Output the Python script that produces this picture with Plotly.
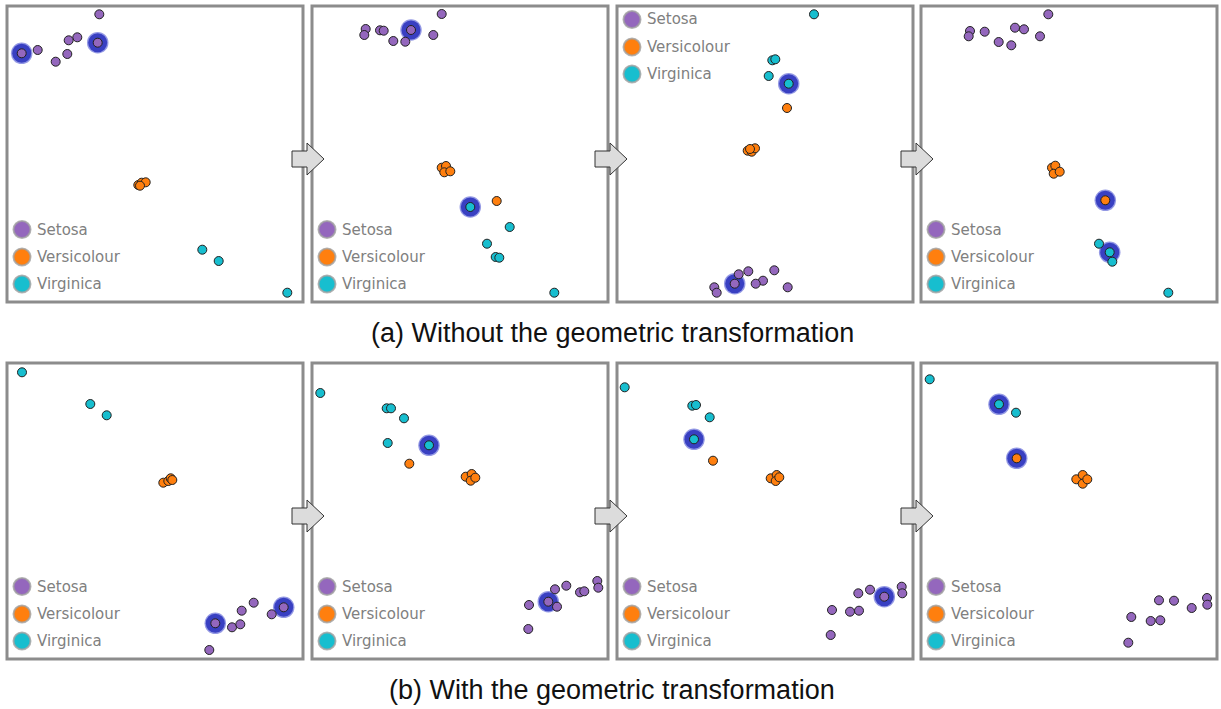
import plotly.graph_objects as go

W, H = 1221, 709
PANEL = 296  # panel side in local units

SPECIES = ["Setosa", "Versicolour", "Virginica"]
COLORS = {"Setosa": "#9467bd", "Versicolour": "#ff7f0e", "Virginica": "#17becf"}

# ---- data: projected iris samples, panel-local coords (x right, y down, 0..296) ----
# Row (a): without the geometric transformation
a1_setosa = [(92.3, 8.3), (70.3, 31.3), (61.7, 34.3), (90.7, 36.7), (30.7, 44.0),
             (14.7, 47.3), (60.3, 48.0), (48.7, 55.7)]
a1_versicolour = [(131.3, 179.0), (134.7, 176.7), (138.7, 176.3), (133.0, 179.7)]
a1_virginica = [(195.3, 243.7), (211.7, 255.0), (280.3, 286.7)]
a1_highlight = [("Setosa", 3), ("Setosa", 5)]

a2_setosa = [(129.7, 8.0), (53.7, 23.0), (52.3, 29.0), (68.0, 24.3), (71.7, 24.7),
             (99.0, 24.0), (121.3, 29.0), (81.3, 35.0), (93.3, 35.7)]
a2_versicolour = [(129.7, 161.7), (134.0, 160.0), (132.3, 166.3), (138.3, 165.3), (184.7, 195.0)]
a2_virginica = [(158.3, 201.0), (197.7, 221.0), (175.0, 237.7), (183.7, 251.0),
                (187.3, 251.7), (242.3, 286.7)]
a2_highlight = [("Setosa", 5), ("Virginica", 0)]

a3_setosa = [(121.7, 268.3), (131.3, 265.3), (157.3, 264.3), (146.0, 274.7), (138.7, 277.7),
             (117.7, 277.7), (97.3, 281.3), (99.7, 286.7), (170.7, 281.3)]
a3_versicolour = [(170.0, 102.0), (130.7, 144.7), (134.7, 145.7), (138.0, 142.3), (133.0, 143.0)]
a3_virginica = [(197.0, 8.3), (155.3, 54.3), (158.3, 53.3), (151.7, 70.0), (171.7, 77.7)]
a3_highlight = [("Setosa", 5), ("Virginica", 4)]

a4_setosa = [(127.3, 8.3), (49.0, 25.0), (47.7, 30.3), (63.7, 25.7), (94.0, 21.7),
             (103.0, 23.3), (119.0, 30.3), (77.7, 36.0), (90.3, 39.3)]
a4_versicolour = [(131.0, 161.7), (134.3, 159.7), (132.7, 167.7), (138.7, 165.7), (184.3, 194.3)]
a4_virginica = [(178.0, 237.7), (191.3, 255.7), (188.7, 246.3), (247.3, 286.7)]
a4_highlight = [("Versicolour", 4), ("Virginica", 2)]

# Row (b): with the geometric transformation
b1_setosa = [(246.7, 239.7), (234.7, 247.7), (264.7, 251.3), (276.7, 244.3), (208.3, 260.3),
             (225.0, 264.3), (233.3, 261.3), (202.3, 287.0)]
b1_versicolour = [(156.3, 119.7), (161.3, 118.0), (163.7, 115.3), (165.3, 117.0)]
b1_virginica = [(15.0, 9.3), (83.3, 41.0), (99.7, 52.3)]
b1_highlight = [("Setosa", 3), ("Setosa", 4)]

b2_setosa = [(285.3, 218.0), (286.3, 224.7), (254.3, 222.7), (243.0, 226.3), (268.0, 229.3),
             (272.3, 228.3), (217.0, 242.0), (236.3, 238.7), (245.0, 243.7), (216.3, 266.0)]
b2_versicolour = [(97.3, 100.7), (153.7, 113.7), (159.7, 111.0), (158.7, 117.7), (163.3, 114.7)]
b2_virginica = [(8.3, 30.0), (74.7, 45.3), (79.0, 45.3), (92.0, 55.3), (75.7, 80.0), (117.0, 82.3)]
b2_highlight = [("Setosa", 7), ("Virginica", 5)]

b3_setosa = [(284.7, 223.7), (285.3, 230.3), (253.0, 226.7), (241.3, 230.3), (267.3, 233.7),
             (215.0, 247.0), (233.0, 248.7), (242.0, 247.7), (213.7, 272.0)]
b3_versicolour = [(96.0, 97.7), (153.7, 115.3), (159.7, 112.0), (158.7, 118.0), (162.3, 114.3)]
b3_virginica = [(7.7, 24.3), (75.3, 42.7), (79.0, 42.0), (92.7, 54.3), (77.0, 76.3)]
b3_highlight = [("Setosa", 4), ("Virginica", 4)]

b4_setosa = [(286.0, 235.0), (286.3, 241.7), (238.0, 237.3), (253.0, 237.7), (270.7, 245.0),
             (210.3, 254.0), (229.7, 258.0), (239.3, 257.3), (207.3, 279.7)]
b4_versicolour = [(95.7, 95.3), (155.3, 116.3), (161.7, 112.0), (161.7, 120.7), (166.3, 116.3)]
b4_virginica = [(8.7, 16.3), (78.0, 41.3), (95.0, 49.7)]
b4_highlight = [("Versicolour", 0), ("Virginica", 1)]

panels = [
    (a1_setosa, a1_versicolour, a1_virginica, a1_highlight, "bottom"),
    (a2_setosa, a2_versicolour, a2_virginica, a2_highlight, "bottom"),
    (a3_setosa, a3_versicolour, a3_virginica, a3_highlight, "top"),
    (a4_setosa, a4_versicolour, a4_virginica, a4_highlight, "bottom"),
    (b1_setosa, b1_versicolour, b1_virginica, b1_highlight, "bottom"),
    (b2_setosa, b2_versicolour, b2_virginica, b2_highlight, "bottom"),
    (b3_setosa, b3_versicolour, b3_virginica, b3_highlight, "bottom"),
    (b4_setosa, b4_versicolour, b4_virginica, b4_highlight, "bottom"),
]

captions = ["(a) Without the geometric transformation", "(b) With the geometric transformation"]

# ---- layout geometry (pixels) ----
PANEL_X0 = [7, 312, 617, 921]
PANEL_Y0 = [6, 363]
CAPTION_Y = [333, 690]
CAPTION_X = 612
ARROW_X = [292, 595, 901]
ARROW_Y = [159, 516]
LEGEND_ROWS = {"bottom": [223.5, 251.0, 278.0], "top": [13.5, 41.0, 68.0]}

fig = go.Figure()
layout = dict(
    width=W, height=H, margin=dict(l=0, r=0, t=0, b=0),
    paper_bgcolor="white", plot_bgcolor="rgba(0,0,0,0)", showlegend=False,
)
shapes = []
annotations = []

for i, (st, ve, vi, hl, legpos) in enumerate(panels):
    n = i + 1
    row, col = divmod(i, 4)
    x0 = PANEL_X0[col]
    y0 = PANEL_Y0[row]
    xa = "x" if n == 1 else f"x{n}"
    ya = "y" if n == 1 else f"y{n}"
    layout["xaxis" if n == 1 else f"xaxis{n}"] = dict(
        domain=[x0 / W, (x0 + PANEL) / W], range=[0, PANEL], visible=False,
        fixedrange=True, anchor=ya)
    layout["yaxis" if n == 1 else f"yaxis{n}"] = dict(
        domain=[1 - (y0 + PANEL) / H, 1 - y0 / H], range=[PANEL, 0], visible=False,
        fixedrange=True, anchor=xa)

    groups = {"Setosa": st, "Versicolour": ve, "Virginica": vi}

    # highlight halos (beneath points)
    hx = [groups[s][k][0] for s, k in hl]
    hy = [groups[s][k][1] for s, k in hl]
    fig.add_trace(go.Scatter(x=hx, y=hy, mode="markers", xaxis=xa, yaxis=ya,
                             cliponaxis=False, hoverinfo="skip",
                             marker=dict(size=21.5, color="rgba(60,70,205,0.55)", line=dict(width=0))))
    fig.add_trace(go.Scatter(x=hx, y=hy, mode="markers", xaxis=xa, yaxis=ya,
                             cliponaxis=False, hoverinfo="skip",
                             marker=dict(size=19, color="#3940c2", line=dict(width=0))))

    for sp in SPECIES:
        pts = groups[sp]
        fig.add_trace(go.Scatter(
            x=[p[0] for p in pts], y=[p[1] for p in pts], mode="markers",
            xaxis=xa, yaxis=ya, name=sp, cliponaxis=False,
            marker=dict(size=9, color=COLORS[sp], line=dict(width=1, color="#222"))))

    # in-panel legend
    ly = LEGEND_ROWS[legpos]
    fig.add_trace(go.Scatter(
        x=[15] * 3, y=ly, mode="markers", xaxis=xa, yaxis=ya, cliponaxis=False,
        hoverinfo="skip",
        marker=dict(size=17, color=[COLORS[s] for s in SPECIES],
                    line=dict(width=2, color="rgba(160,160,160,0.8)"))))
    for sp, yy in zip(SPECIES, ly):
        annotations.append(dict(x=28, y=yy, xref=xa, yref=ya, text=sp, showarrow=False,
                                xanchor="left", yanchor="middle",
                                font=dict(family="DejaVu Sans", size=15, color="#808080")))

    # panel frame
    shapes.append(dict(type="rect", xref=f"{xa} domain", yref=f"{ya} domain",
                       x0=0, x1=1, y0=0, y1=1, layer="above",
                       line=dict(color="#8c8c8c", width=3)))

# overlay axis in figure pixels for the transition arrows
layout["xaxis9"] = dict(domain=[0, 1], range=[0, W], visible=False, fixedrange=True, anchor="y9")
layout["yaxis9"] = dict(domain=[0, 1], range=[H, 0], visible=False, fixedrange=True, anchor="x9")
fig.add_trace(go.Scatter(x=[0], y=[0], mode="markers", xaxis="x9", yaxis="y9",
                         marker=dict(size=1, opacity=0), hoverinfo="skip"))
for yc in ARROW_Y:
    for xs in ARROW_X:
        path = (f"M {xs},{yc-8} L {xs+15},{yc-8} L {xs+15},{yc-16} L {xs+32},{yc} "
                f"L {xs+15},{yc+16} L {xs+15},{yc+8} L {xs},{yc+8} Z")
        shapes.append(dict(type="path", path=path, xref="x9", yref="y9", layer="above",
                           fillcolor="#dcdcdc", line=dict(color="#333", width=1)))

for cap, cy in zip(captions, CAPTION_Y):
    annotations.append(dict(x=CAPTION_X / W, y=1 - cy / H, xref="paper", yref="paper",
                            text=cap, showarrow=False, xanchor="center", yanchor="middle",
                            font=dict(family="Liberation Sans, Arial", size=27, color="#111")))

layout["shapes"] = shapes
layout["annotations"] = annotations
fig.update_layout(**layout)
fig.write_html("out.html")
